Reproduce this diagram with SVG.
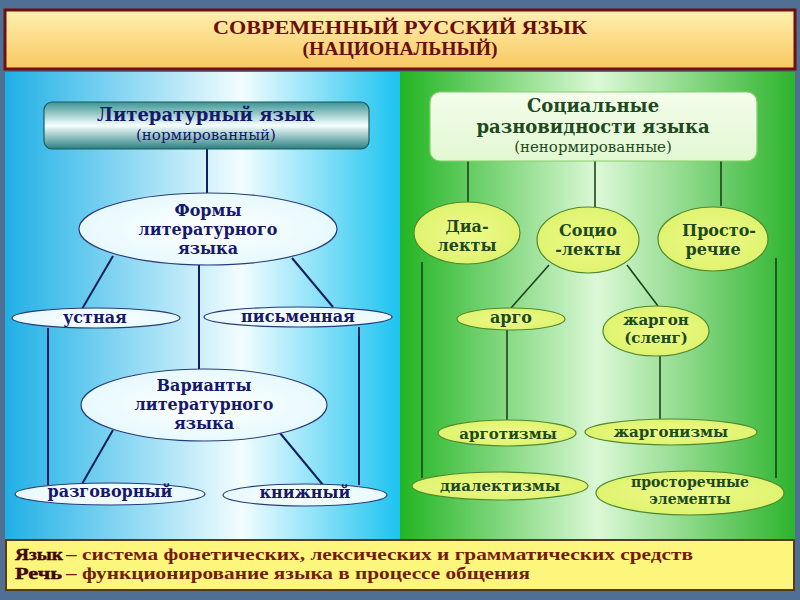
<svg xmlns="http://www.w3.org/2000/svg" width="800" height="600" viewBox="0 0 800 600">
<defs>
<linearGradient id="gBlue" x1="0" y1="0" x2="1" y2="0">
<stop offset="0" stop-color="#1fb0e6"/>
<stop offset="0.6" stop-color="#f2fdff"/>
<stop offset="1" stop-color="#1cc3f0"/>
</linearGradient>
<linearGradient id="gGreen" x1="0" y1="0" x2="1" y2="0">
<stop offset="0" stop-color="#22b522"/>
<stop offset="0.5" stop-color="#dcf8d6"/>
<stop offset="1" stop-color="#2db42d"/>
</linearGradient>
<linearGradient id="gTitle" x1="0" y1="0" x2="0" y2="1">
<stop offset="0" stop-color="#fff0b0"/>
<stop offset="1" stop-color="#f8c860"/>
</linearGradient>
<linearGradient id="gLit" x1="0" y1="0" x2="0" y2="1">
<stop offset="0" stop-color="#3c9494"/>
<stop offset="0.5" stop-color="#f6ffff"/>
<stop offset="1" stop-color="#2a7f80"/>
</linearGradient>
<linearGradient id="gSoc" x1="0" y1="0" x2="0" y2="1">
<stop offset="0" stop-color="#f4fdec"/>
<stop offset="1" stop-color="#e2f8d2"/>
</linearGradient>
<radialGradient id="gEllB" cx="0.5" cy="0.5" r="0.6">
<stop offset="0" stop-color="#ffffff"/>
<stop offset="1" stop-color="#e2f8fd"/>
</radialGradient>
<radialGradient id="gEllG" cx="0.5" cy="0.5" r="0.6">
<stop offset="0" stop-color="#eefa8a"/>
<stop offset="1" stop-color="#ddf26a"/>
</radialGradient>
</defs>
<style>
.nb { font-family: "DejaVu Serif", serif; font-weight: bold; fill: #16186a; text-anchor: middle; }
.ng { font-family: "DejaVu Serif", serif; font-weight: bold; fill: #1d4a1d; text-anchor: middle; }
.sub { font-weight: normal; }
.eb { fill: url(#gEllB); stroke: #2a3c78; stroke-width: 1.2; }
.eg { fill: url(#gEllG); stroke: #4f8a30; stroke-width: 1.2; }
.lb { stroke: #10205e; stroke-width: 2; fill: none; }
.lg { stroke: #1b431b; stroke-width: 1.6; fill: none; }
.tt { font-family: "Liberation Serif", serif; font-weight: bold; fill: #6a0e0e; text-anchor: middle; }
.bt { font-family: "Liberation Serif", serif; font-weight: bold; fill: #761a0c; }
.bk { font-family: "Liberation Serif", serif; font-weight: bold; fill: #4a0606; stroke: #2a0000; stroke-width: 0.4; }
</style>

<rect x="0" y="0" width="800" height="600" fill="#4f6f95"/>

<g id="panels">
<rect x="5" y="72" width="395" height="468" fill="url(#gBlue)"/>
<rect x="400" y="72" width="395" height="468" fill="url(#gGreen)"/>
</g>

<g id="title">
<rect x="5" y="10" width="790" height="59" fill="url(#gTitle)" stroke="#6e1010" stroke-width="3"/>
<text class="tt" x="400" y="34" font-size="19" textLength="374" lengthAdjust="spacingAndGlyphs">СОВРЕМЕННЫЙ РУССКИЙ ЯЗЫК</text>
<text class="tt" x="400" y="55" font-size="19" textLength="195" lengthAdjust="spacingAndGlyphs">(НАЦИОНАЛЬНЫЙ)</text>
</g>

<g id="connectors">
<line class="lb" x1="207" y1="149" x2="207" y2="193"/>
<line class="lb" x1="113" y1="256" x2="82" y2="309"/>
<line class="lb" x1="199" y1="265" x2="199" y2="369"/>
<line class="lb" x1="292" y1="258" x2="333" y2="307"/>
<line class="lb" x1="48" y1="328" x2="48" y2="485"/>
<line class="lb" x1="359" y1="327" x2="359" y2="485"/>
<line class="lb" x1="113" y1="430" x2="82" y2="484"/>
<line class="lb" x1="280" y1="433" x2="323" y2="485"/>
<line class="lg" x1="468" y1="161" x2="468" y2="203"/>
<line class="lg" x1="595" y1="161" x2="595" y2="207"/>
<line class="lg" x1="721" y1="161" x2="721" y2="206"/>
<line class="lg" x1="422" y1="262" x2="422" y2="478"/>
<line class="lg" x1="776" y1="258" x2="776" y2="478"/>
<line class="lg" x1="549" y1="265" x2="511" y2="308"/>
<line class="lg" x1="627" y1="265" x2="658" y2="306"/>
<line class="lg" x1="507" y1="330" x2="507" y2="420"/>
<line class="lg" x1="660" y1="356" x2="660" y2="419"/>
</g>

<g id="lit">
<rect x="44" y="102" width="325" height="47" rx="8" fill="url(#gLit)" stroke="#1d5a5c" stroke-width="1.2"/>
<text class="nb" x="206" y="121" font-size="18">Литературный язык</text>
<text class="nb sub" x="206" y="140" font-size="15">(нормированный)</text>
</g>
<g id="forms">
<ellipse class="eb" cx="208" cy="229" rx="129" ry="36"/>
<text class="nb" x="208" y="216" font-size="16">Формы</text>
<text class="nb" x="208" y="235" font-size="16">литературного</text>
<text class="nb" x="208" y="254" font-size="16">языка</text>
</g>
<g id="ustnaya">
<ellipse class="eb" cx="96" cy="318" rx="84" ry="10"/>
<text class="nb" x="95" y="323" font-size="16">устная</text>
</g>
<g id="pismennaya">
<ellipse class="eb" cx="298" cy="317" rx="94" ry="10"/>
<text class="nb" x="298" y="322" font-size="16">письменная</text>
</g>
<g id="varianty">
<ellipse class="eb" cx="204" cy="405" rx="123" ry="36"/>
<text class="nb" x="204" y="391" font-size="16">Варианты</text>
<text class="nb" x="204" y="410" font-size="16">литературного</text>
<text class="nb" x="204" y="429" font-size="16">языка</text>
</g>
<g id="razgovorny">
<ellipse class="eb" cx="110" cy="494" rx="95" ry="11"/>
<text class="nb" x="110" y="497" font-size="16">разговорный</text>
</g>
<g id="knizhny">
<ellipse class="eb" cx="305" cy="495" rx="82" ry="11"/>
<text class="nb" x="305" y="498" font-size="16">книжный</text>
</g>

<g id="social">
<rect x="430" y="92" width="327" height="69" rx="10" fill="url(#gSoc)" stroke="#86cf68" stroke-width="1.2"/>
<text class="ng" x="593" y="112" font-size="18">Социальные</text>
<text class="ng" x="593" y="133" font-size="18">разновидности языка</text>
<text class="ng sub" x="593" y="152" font-size="15">(ненормированные)</text>
</g>
<g id="dialekty">
<ellipse class="eg" cx="467" cy="233" rx="53" ry="31"/>
<text class="ng" x="467" y="232" font-size="16">Диа-</text>
<text class="ng" x="467" y="251" font-size="16">лекты</text>
</g>
<g id="sotsiolekty">
<ellipse class="eg" cx="588" cy="240" rx="51" ry="33"/>
<text class="ng" x="588" y="236" font-size="16">Социо</text>
<text class="ng" x="588" y="255" font-size="16">-лекты</text>
</g>
<g id="prostorechie">
<ellipse class="eg" cx="713" cy="239" rx="55" ry="32"/>
<text class="ng" x="719" y="236" font-size="16">Просто-</text>
<text class="ng" x="713" y="255" font-size="16">речие</text>
</g>
<g id="argo">
<ellipse class="eg" cx="511" cy="319" rx="54" ry="11"/>
<text class="ng" x="511" y="323" font-size="16">арго</text>
</g>
<g id="zhargon">
<ellipse class="eg" cx="656" cy="331" rx="53" ry="25"/>
<text class="ng" x="656" y="325" font-size="15">жаргон</text>
<text class="ng" x="656" y="343" font-size="15">(сленг)</text>
</g>
<g id="argotizmy">
<ellipse class="eg" cx="507" cy="433" rx="69" ry="13"/>
<text class="ng" x="508" y="439" font-size="15">арготизмы</text>
</g>
<g id="zhargonizmy">
<ellipse class="eg" cx="671" cy="432" rx="86" ry="13"/>
<text class="ng" x="671" y="437" font-size="15">жаргонизмы</text>
</g>
<g id="dialektizmy">
<ellipse class="eg" cx="500" cy="486" rx="88" ry="14"/>
<text class="ng" x="500" y="491" font-size="15">диалектизмы</text>
</g>
<g id="prostorechnye">
<ellipse class="eg" cx="690" cy="493" rx="94" ry="22"/>
<text class="ng" x="690" y="487" font-size="14">просторечные</text>
<text class="ng" x="690" y="504" font-size="14">элементы</text>
</g>

<g id="footer">
<rect x="6" y="540" width="788" height="50" fill="#fdf67c" stroke="#5a3a1a" stroke-width="2"/>
<text class="bk" x="15" y="560" font-size="17" textLength="48" lengthAdjust="spacingAndGlyphs">Язык</text>
<text class="bt" x="66" y="560" font-size="17" textLength="627" lengthAdjust="spacingAndGlyphs">– система фонетических, лексических и грамматических средств</text>
<text class="bk" x="15" y="579" font-size="17" textLength="47" lengthAdjust="spacingAndGlyphs">Речь</text>
<text class="bt" x="66" y="579" font-size="17" textLength="464" lengthAdjust="spacingAndGlyphs">– функционирование языка в процессе общения</text>
</g>
</svg>
